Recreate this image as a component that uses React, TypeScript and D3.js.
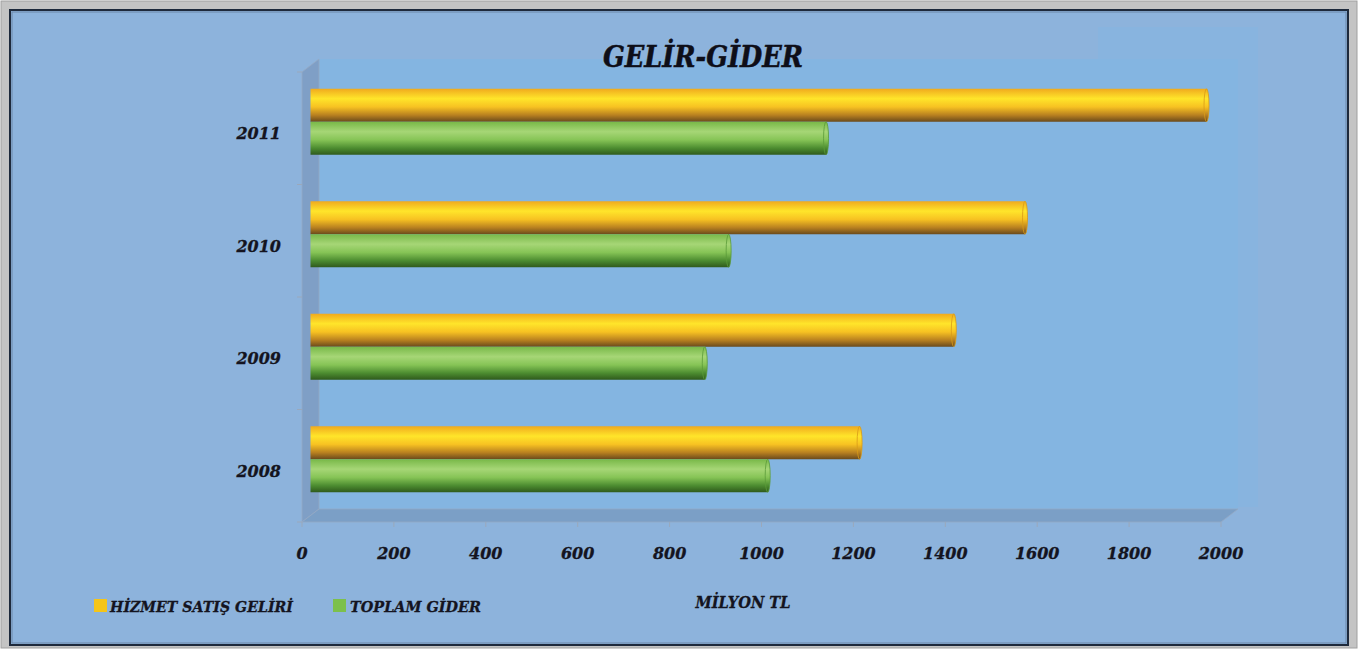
import React from "react";
import * as d3 from "d3";

const years = ["2011", "2010", "2009", "2008"];
const seriesNames = ["HİZMET SATIŞ GELİRİ", "TOPLAM GİDER"];
const gelir = [1950, 1555, 1400, 1195];
const gider = [1122, 910, 858, 995];
const xTicks = [0, 200, 400, 600, 800, 1000, 1200, 1400, 1600, 1800, 2000];

const W = 1365;
const H = 649;
const FONT = "DejaVu Serif";

export default function App() {
  const x = d3.scaleLinear().domain([0, 2000]).range([302, 1221]);
  const y = d3.scaleBand<string>().domain(years).range([72, 522]);
  const inner = d3.scaleBand<string>().domain(seriesNames).range([0, 66]);
  const dx = 17, dy = -13;
  const hx = dx / 2, hy = dy / 2;
  const x0 = x(0), x1 = x(2000);
  const yTop = 72, yBot = 522;
  const bw = y.bandwidth();
  const series = [
    { name: seriesNames[0], values: gelir, grad: "gY", edge: "#d89a18", sw: "#f5c518" },
    { name: seriesNames[1], values: gider, grad: "gG", edge: "#5a9a38", sw: "#7cc04c" },
  ];
  return (
    <svg width={W} height={H} style={{ position: "absolute", left: 0, top: 0 }}>
      <defs>
        <linearGradient id="gY" x1="0" y1="0" x2="0" y2="1">
          <stop offset="0" stopColor="#f0aa1e" />
          <stop offset="0.3" stopColor="#ffe52a" />
          <stop offset="0.55" stopColor="#f7c222" />
          <stop offset="0.8" stopColor="#b88020" />
          <stop offset="1" stopColor="#6a4a1c" />
        </linearGradient>
        <linearGradient id="gG" x1="0" y1="0" x2="0" y2="1">
          <stop offset="0" stopColor="#78b848" />
          <stop offset="0.3" stopColor="#a6d676" />
          <stop offset="0.55" stopColor="#86c456" />
          <stop offset="0.8" stopColor="#4c8c30" />
          <stop offset="1" stopColor="#2f5a1c" />
        </linearGradient>
      </defs>
      <rect x={1} y={1} width={1356} height={647} fill="#c4c4c4" stroke="#a0a0a0" />
      <rect x={10} y={10} width={1338} height={635} fill="#8db3dc" stroke="#1e2a3c" strokeWidth={2} />
      <rect x={12} y={12} width={1334} height={631} fill="none" stroke="#6d87a8" strokeWidth={1} />
      <rect x={1098} y={27} width={160} height={480} fill="#88b4df" />
      {/* back wall */}
      <rect x={x0 + dx} y={yTop + dy} width={x1 - x0} height={yBot - yTop} fill="#84b5e1" />
      {/* left wall */}
      <path d={`M${x0},${yTop} L${x0 + dx},${yTop + dy} L${x0 + dx},${yBot + dy} L${x0},${yBot} Z`} fill="#7f9fc6" stroke="#95a9c4" strokeWidth={0.8} />
      {/* floor */}
      <path d={`M${x0},${yBot} L${x0 + dx},${yBot + dy} L${x1 + dx},${yBot + dy} L${x1},${yBot} Z`} fill="#7b9fc6" stroke="#95a9c4" strokeWidth={0.8} />
      {/* y ticks */}
      {[yTop, ...years.map((c) => (y(c) as number) + bw)].map((t, i) => (
        <line key={i} x1={x0 - 5} x2={x0} y1={t} y2={t} stroke="#9aa8bb" />
      ))}
      {/* x ticks */}
      {xTicks.map((t) => (
        <line key={t} x1={x(t)} x2={x(t)} y1={yBot} y2={yBot + 5} stroke="#9aa8bb" />
      ))}
      {/* bars */}
      {years.map((c, i) => (
        <g key={c}>
          {series.map((s) => {
            const top = (y(c) as number) + (bw - 66) / 2 + (inner(s.name) as number) + hy;
            const h = inner.bandwidth();
            const xs = x0 + hx;
            const xe = x(s.values[i]) + hx;
            return (
              <g key={s.name}>
                <rect x={xs} y={top} width={xe - xs} height={h} fill={`url(#${s.grad})`} />
                <ellipse cx={xe} cy={top + h / 2} rx={2.5} ry={h / 2} fill={`url(#${s.grad})`} stroke={s.edge} strokeWidth={0.8} />
              </g>
            );
          })}
        </g>
      ))}
      {/* y labels */}
      {years.map((c) => (
        <text key={c} x={281} y={(y(c) as number) + bw / 2 + 11} textAnchor="end" fontFamily={FONT} fontWeight="bold" fontStyle="italic" fontSize={16} stroke="#141420" strokeWidth={0.3} fill="#141420">
          {c}
        </text>
      ))}
      {/* x labels */}
      {xTicks.map((t) => (
        <text key={t} x={x(t)} y={559} textAnchor="middle" fontFamily={FONT} fontWeight="bold" fontStyle="italic" fontSize={16} stroke="#141420" strokeWidth={0.3} fill="#141420">
          {t}
        </text>
      ))}
      {/* title */}
      <text x={703} y={67} textAnchor="middle" fontFamily={FONT} fontWeight="bold" fontStyle="italic" fontSize={29} textLength={200} lengthAdjust="spacingAndGlyphs" stroke="#0e0e18" strokeWidth={0.5} fill="#0e0e18">
        GELİR-GİDER
      </text>
      {/* axis title */}
      <text x={743} y={608} textAnchor="middle" fontFamily={FONT} fontWeight="bold" fontStyle="italic" fontSize={16} textLength={95} lengthAdjust="spacingAndGlyphs" stroke="#141420" strokeWidth={0.3} fill="#141420">
        MİLYON TL
      </text>
      {/* legend */}
      <rect x={94} y={599} width={13} height={13} fill={series[0].sw} />
      <text x={110} y={612} fontFamily={FONT} fontWeight="bold" fontStyle="italic" fontSize={15} textLength={183} lengthAdjust="spacingAndGlyphs" stroke="#141420" strokeWidth={0.3} fill="#141420">
        {seriesNames[0]}
      </text>
      <rect x={333} y={599} width={13} height={13} fill={series[1].sw} />
      <text x={350} y={612} fontFamily={FONT} fontWeight="bold" fontStyle="italic" fontSize={15} textLength={131} lengthAdjust="spacingAndGlyphs" stroke="#141420" strokeWidth={0.3} fill="#141420">
        {seriesNames[1]}
      </text>
    </svg>
  );
}
